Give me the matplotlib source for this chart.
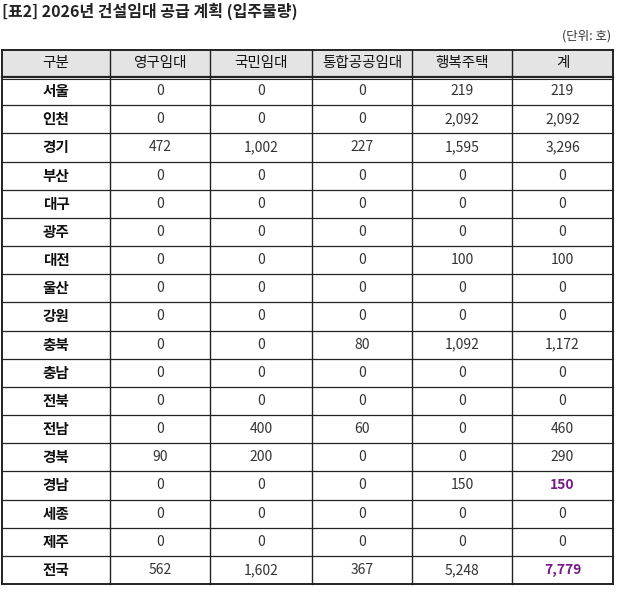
import matplotlib
matplotlib.use("Agg")
import matplotlib.pyplot as plt
plt.rcParams['font.family'] = ['Noto Sans CJK KR', 'DejaVu Sans']

title = "[표2] 2026년 건설임대 공급 계획 (입주물량)"
unit = "(단위: 호)"
columns = ["구분", "영구임대", "국민임대", "통합공공임대", "행복주택", "계"]
regions = ["서울","인천","경기","부산","대구","광주","대전","울산","강원","충북","충남","전북","전남","경북","경남","세종","제주","전국"]
yeonggu = [0,0,472,0,0,0,0,0,0,0,0,0,0,90,0,0,0,562]
gukmin = [0,0,1002,0,0,0,0,0,0,0,0,0,400,200,0,0,0,1602]
tonghap = [0,0,227,0,0,0,0,0,0,80,0,0,60,0,0,0,0,367]
haengbok = [219,2092,1595,0,0,0,100,0,0,1092,0,0,0,0,150,0,0,5248]
total = [219,2092,3296,0,0,0,100,0,0,1172,0,0,460,290,150,0,0,7779]
purple_rows = ["경남", "전국"]

W, H = 622, 592
fig = plt.figure(figsize=(W/100, H/100), dpi=100)
ax = fig.add_axes([0, 0, 1, 1])
ax.set_xlim(0, W); ax.set_ylim(H, 0); ax.axis('off')

xs = [2, 110, 210, 312, 412, 512, 613]
top, hh = 50, 27
rh = (584 - 77) / len(regions)
bottom = top + hh + rh * len(regions)

ax.text(2, 11, title, fontsize=11.5, fontweight='bold', va='center', ha='left', color='#222')
ax.text(611, 36, unit, fontsize=9, va='center', ha='right', color='#333')

ax.add_patch(plt.Rectangle((xs[0], top), xs[-1]-xs[0], hh, facecolor='#e4e4e4', edgecolor='none'))
for i, c in enumerate(columns):
    ax.text((xs[i]+xs[i+1])/2, top + hh/2, c, fontsize=10.5, ha='center', va='center', color='#111')

cols = [yeonggu, gukmin, tonghap, haengbok, total]
for r, reg in enumerate(regions):
    yc = top + hh + rh*(r + 0.5)
    ax.text((xs[0]+xs[1])/2, yc, reg, fontsize=10.5, ha='center', va='center', color='#111', fontweight='bold')
    for j, col in enumerate(cols):
        purple = (j == 4 and reg in purple_rows)
        ax.text((xs[j+1]+xs[j+2])/2, yc, f"{col[r]:,}", fontsize=10, ha='center', va='center',
                color='#7a1a8a' if purple else '#333', fontweight='bold' if purple else 'normal')

for x in xs:
    ax.plot([x, x], [top, bottom], color='#222', lw=1 if x not in (xs[0], xs[-1]) else 1.4)
ax.plot([xs[0], xs[-1]], [top, top], color='#222', lw=1.4)
ax.plot([xs[0], xs[-1]], [top+hh, top+hh], color='#222', lw=1.6)
ax.plot([xs[0], xs[-1]], [top+hh+1.5, top+hh+1.5], color='#222', lw=0.8)
for r in range(1, len(regions)):
    y = top + hh + rh*r
    ax.plot([xs[0], xs[-1]], [y, y], color='#222', lw=0.9)
ax.plot([xs[0], xs[-1]], [bottom, bottom], color='#222', lw=1.4)

fig.savefig("out.png", dpi=100)
